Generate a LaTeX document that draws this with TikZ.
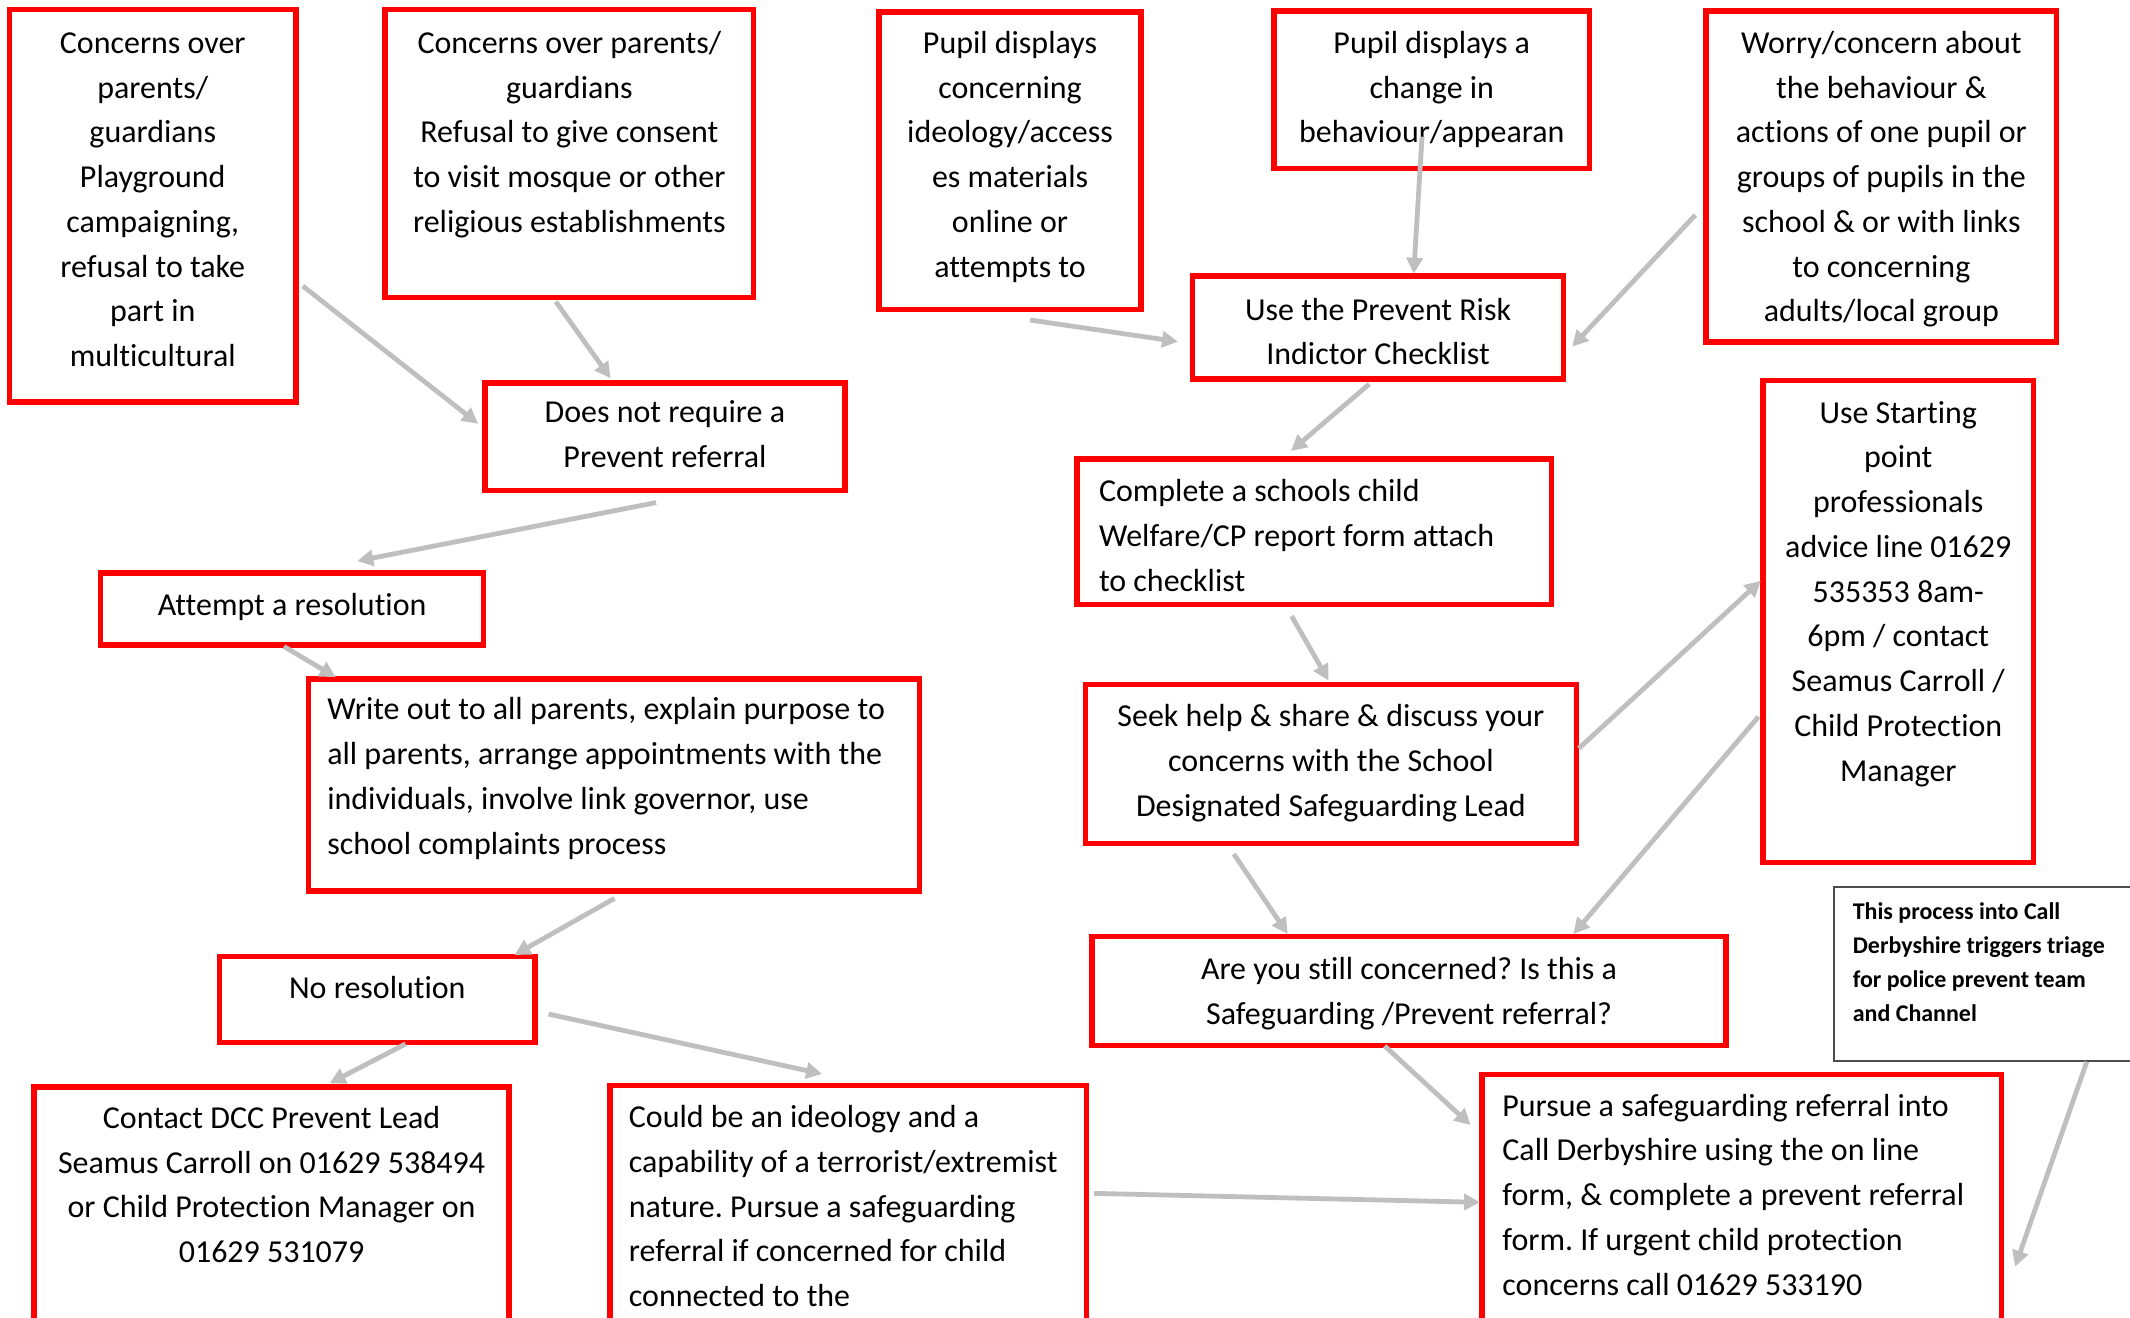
\documentclass[tikz,border=0pt]{standalone}
\usepackage{fontspec}
\setmainfont{Carlito}[Ligatures=NoCommon]
\usetikzlibrary{calc}
\usetikzlibrary{arrows.meta}
\frenchspacing
\newcommand\calspace{\spaceskip=0.226em\relax}
\tikzset{
  redbox/.style={draw=red, line width=2.8pt, inner ysep=0pt, outer sep=0pt,
    anchor=north west, font=\fontsize{16}{22.4}\selectfont, execute at begin node=\calspace},
  notebox/.style={draw=black!70, line width=0.8pt, inner ysep=0pt, outer sep=0pt,
    anchor=north west, align=left, font=\fontsize{12}{17}\selectfont\bfseries, execute at begin node=\calspace},
  arr/.style={draw=gray!50, line width=2.4pt, -{Triangle[length=8pt,width=8pt]}}
}
\begin{document}
\begin{tikzpicture}[x=0.68pt, y=-0.68pt]
\useasboundingbox (0,0) rectangle (1568,970);
\clip (0,0) rectangle (1568,970);
\fill[white] (0,0) rectangle (1568,970);
% top row
\node[redbox, align=center, inner xsep=5.4pt, text width=132.6pt, text height=22pt, text depth=174.6pt] (parents) at (7,7)
  {Concerns over\\parents/\\guardians\\Playground\\campaigning,\\refusal to take\\part in\\multicultural};
\node[redbox, align=center, inner xsep=5.4pt, text width=173.7pt, text height=22pt, text depth=122.2pt] (consent) at (283.5,7)
  {Concerns over parents/\\guardians\\Refusal to give consent\\to visit mosque or other\\religious establishments};
\node[redbox, align=center, inner xsep=4.1pt, text width=123.1pt, text height=20.6pt, text depth=128.3pt] (ideology) at (647,9)
  {Pupil displays\\concerning\\ideology/access\\es materials\\online or\\attempts to};
\node[redbox, align=center, inner xsep=6.8pt, text width=144.2pt, text height=21.3pt, text depth=57.6pt] (behaviour) at (938,8)
  {Pupil displays a\\change in\\behaviour/appearan};
\node[redbox, align=center, inner xsep=6.8pt, text width=161.8pt, text height=21.3pt, text depth=144.6pt] (worry) at (1256,8)
  {Worry/concern about\\the behaviour \&\\actions of one pupil or\\groups of pupils in the\\school \& or with links\\to concerning\\adults/local group};
% middle
\node[redbox, align=center, inner xsep=6.8pt, text width=172pt, text height=22.2pt, text depth=29.5pt] (checklist) at (878,203)
  {Use the Prevent Risk\\Indictor Checklist};
\node[redbox, align=center, inner xsep=6.8pt, text width=166.6pt, text height=19.9pt, text depth=33.8pt] (noref) at (357,282)
  {Does not require a\\Prevent referral};
\node[redbox, align=center, inner xsep=5.4pt, text width=124.4pt, text height=21.4pt, text depth=220pt] (startpoint) at (1298,280)
  {Use Starting\\point\\professionals\\advice line 01629\\535353 8am-\\6pm / contact\\Seamus Carroll /\\Child Protection\\Manager};
\node[redbox, align=left, inner xsep=10.9pt, text width=215.6pt, text height=21.3pt, text depth=51.5pt] (report) at (793,338)
  {Complete a schools child\\Welfare/CP report form attach\\to checklist};
\node[redbox, align=center, inner xsep=6.8pt, text width=178.2pt, text height=20.9pt, text depth=15.1pt] (attempt) at (74,422)
  {Attempt a resolution};
\node[redbox, align=left, inner xsep=9.5pt, text width=287pt, text height=20.4pt, text depth=85.7pt] (writeout) at (227,500)
  {Write out to all parents, explain purpose to\\all parents, arrange appointments with the\\individuals, involve link governor, use\\school complaints process};
\node[redbox, align=center, inner xsep=6.8pt, text width=232.2pt, text height=21.1pt, text depth=58.5pt] (seekhelp) at (799,504)
  {Seek help \& share \& discuss your\\concerns with the School\\Designated Safeguarding Lead};
\node[notebox, inner xsep=9.5pt, text width=137.4pt, text height=16.2pt, text depth=70.9pt] (callnote) at (1350,653)
  {This process into Call\\Derbyshire triggers triage\\for police prevent team\\and Channel};
\node[redbox, align=center, inner xsep=6.8pt, text width=144.5pt, text height=20.9pt, text depth=22.2pt] (nores) at (161.5,704)
  {No resolution};
\node[redbox, align=center, inner xsep=6.8pt, text width=303.6pt, text height=21.4pt, text depth=33pt] (stillconcern) at (804,689.5)
  {Are you still concerned? Is this a\\Safeguarding /Prevent referral?};
% bottom row
\node[redbox, align=center, inner xsep=5.4pt, text width=227.1pt, text height=20.8pt, text depth=122pt] (contact) at (25,800)
  {Contact DCC Prevent Lead\\Seamus Carroll on 01629 538494\\or Child Protection Manager on\\01629 531079};
\node[redbox, align=left, inner xsep=9.5pt, text width=219.6pt, text height=21.2pt, text depth=122.4pt] (ideo) at (449,799)
  {Could be an ideology and a\\capability of a terrorist/extremist\\nature. Pursue a safeguarding\\referral if concerned for child\\connected to the};
\node[redbox, align=left, inner xsep=10.2pt, text width=239.7pt, text height=20.8pt, text depth=128.1pt] (pursue) at (1091,791)
  {Pursue a safeguarding referral into\\Call Derbyshire using the on line\\form, \& complete a prevent referral\\form. If urgent child protection\\concerns call 01629 533190};
% arrows
\draw[arr] ($(parents.east)+(5,59)$) -- ($(noref.west)+(-5,-9.5)$);
\draw[arr] ($(consent.south)+(-10,3)$) -- ($(noref.north)+(-40,-3.5)$);
\draw[arr] ($(noref.south)+(-6.5,9)$) -- ($(attempt.north)+(48,-9)$);
\draw[arr] ($(ideology.south)+(14.7,7.6)$) -- ($(checklist.west)+(-10.8,10.5)$);
\draw[arr] ($(behaviour.south)+(-7.2,-23.4)$) -- ($(checklist.north)+(26.2,-1.5)$);
\draw[arr] ($(worry.west)+(-8,28.3)$) -- ($(checklist.east)+(6.3,14.2)$);
\draw[arr] ($(checklist.south)+(-6.5,3.7)$) -- ($(report.north)+(-17.2,-6)$);
\draw[arr] ($(attempt.south)+(-6,1)$) -- ($(writeout.north west)+(20.2,-1.5)$);
\draw[arr] ($(report.south)+(-16.7,8.5)$) -- ($(seekhelp.north)+(-1.7,-3)$);
\draw[arr] ($(seekhelp.east)+(1.8,-11.6)$) -- ($(startpoint.west)+(-1.8,-30)$);
\draw[arr] ($(startpoint.west)+(-3.5,70.1)$) -- ($(stillconcern.north)+(121,-1.9)$);
\draw[arr] ($(seekhelp.south)+(-71.4,7.7)$) -- ($(stillconcern.north)+(-89.3,-1.9)$);
\draw[arr] ($(writeout.south)+(0.4,5.3)$) -- ($(nores.north east)+(-15.3,-1)$);
\draw[arr] ($(nores.south)+(20.8,1.1)$) -- ($(contact.north)+(42.7,-2.5)$);
\draw[arr] ($(nores.east)+(9.8,10.8)$) -- ($(ideo.north)+(-19.2,-8.4)$);
\draw[arr] ($(stillconcern.south)+(-17.9,0.5)$) -- ($(pursue.north west)+(-8.4,37.2)$);
\draw[arr] ($(ideo.north east)+(5.6,79.5)$) -- ($(pursue.north west)+(-1.5,94.1)$);
\draw[arr] ($(callnote.south west)+(186.2,0.5)$) -- ($(pursue.north east)+(9.9,141.5)$);
\end{tikzpicture}
\end{document}
